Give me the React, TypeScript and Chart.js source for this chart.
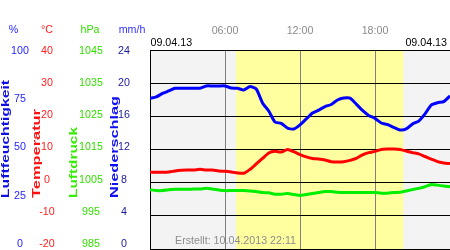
import React, { useEffect, useRef } from "react";
import { Chart, registerables } from "chart.js";

Chart.register(...registerables);

// ---- data ----
const times = [
  "00:00", "00:30", "01:00", "01:30", "02:00", "02:30", "03:00", "03:30",
  "04:00", "04:30", "05:00", "05:30", "06:00", "06:30", "07:00", "07:30",
  "08:00", "08:30", "09:00", "09:30", "10:00", "10:30", "11:00", "11:30",
  "12:00", "12:30", "13:00", "13:30", "14:00", "14:30", "15:00", "15:30",
  "16:00", "16:30", "17:00", "17:30", "18:00", "18:30", "19:00", "19:30",
  "20:00", "20:30", "21:00", "21:30", "22:00", "22:30", "23:00", "23:30",
  "24:00",
];

const humidity = [
  75.5, 76.2, 78.0, 79.3, 80.7, 80.7, 80.7, 80.7, 80.7, 81.9, 81.9, 81.9,
  81.9, 80.8, 80.7, 79.8, 81.6, 80.3, 73.1, 68.9, 63.2, 62.5, 60.1, 59.6,
  61.7, 64.8, 67.9, 69.4, 71.2, 72.3, 74.6, 75.6, 75.6, 72.5, 69.2, 66.6,
  65.1, 62.7, 61.9, 60.4, 59.1, 59.6, 62.2, 63.7, 67.4, 72.0, 73.2, 73.8,
  76.7,
];

const temperature = [
  2.3, 2.3, 2.3, 2.4, 2.7, 2.9, 3.0, 3.0, 3.2, 3.0, 3.0, 2.7,
  2.6, 2.4, 2.1, 2.0, 3.2, 4.9, 6.6, 8.3, 8.8, 8.6, 9.4, 8.7,
  7.8, 7.1, 6.6, 6.4, 6.1, 5.6, 5.5, 5.6, 6.0, 6.6, 7.7, 8.4,
  8.8, 9.4, 9.5, 9.5, 9.4, 8.9, 8.4, 8.0, 7.2, 6.4, 5.6, 5.2,
  5.0,
];

const pressure = [
  1001.9, 1001.6, 1001.6, 1001.9, 1002.0, 1002.0, 1002.0, 1002.1, 1002.1, 1002.3, 1002.1, 1001.8,
  1001.6, 1001.6, 1001.6, 1001.6, 1001.5, 1001.3, 1001.0, 1000.9, 1000.5, 1000.5, 1000.7, 1000.4,
  1000.1, 1000.4, 1000.7, 1001.0, 1001.3, 1001.3, 1001.1, 1001.0, 1001.0, 1001.0, 1001.0, 1001.0,
  1001.0, 1000.8, 1000.8, 1001.0, 1001.1, 1001.5, 1001.9, 1002.3, 1002.8, 1003.5, 1003.3, 1003.0,
  1002.8,
];

const precipitation: number[] = [];

const hourTicks = ["06:00", "12:00", "18:00"];
const humidityTicks = [0, 25, 50, 75, 100];
const temperatureTicks = [-20, -10, 0, 10, 20, 30, 40];
const pressureTicks = [985, 995, 1005, 1015, 1025, 1035, 1045];
const precipitationTicks = [0, 4, 8, 12, 16, 20, 24];
const axisTitles = ["Luftfeuchtigkeit", "Temperatur", "Luftdruck", "Niederschlag"];
const axisUnits = ["%", "°C", "hPa", "mm/h"];
const dateText = "09.04.13";
const createdText = "Erstellt: 10.04.2013 22:11";
const sunrise = "06:53";
const sunset = "20:16";

// ---- styling ----
const FONT = "'Liberation Sans', Arial, sans-serif";
const FS = 10.7;
const C_HUM = "#1f1fff";
const C_TEMP = "#ff2020";
const C_PRES = "#33dd00";
const C_RAIN = "#1a1a99";
const C_RAIN_HEAD = "#3535ff";

const toHours = (t: string) => {
  const [h, m] = t.split(":").map(Number);
  return h + m / 60;
};

// chart area is 199px tall; tick labels span from 1px below top to 5px above bottom
const labelRange = (ticks: number[]) => {
  const lo = ticks[0];
  const hi = ticks[ticks.length - 1];
  const perPx = (hi - lo) / 193;
  return { min: lo - 5 * perPx, max: hi + 1 * perPx };
};

const yAxis = (ticks: number[], color: string, weight: number, width: number, padding: number) => ({
  type: "linear",
  position: "left",
  weight,
  ...labelRange(ticks),
  grid: { display: false, drawTicks: false },
  border: { display: false },
  ticks: {
    color,
    font: { family: FONT, size: FS },
    padding,
    crossAlign: "center",
    autoSkip: false,
    callback: (v: number) => String(v),
  },
  afterBuildTicks: (s: any) => {
    s.ticks = ticks.map((v) => ({ value: v }));
  },
  afterFit: (s: any) => {
    s.width = width;
    s.paddingTop = 0;
    s.paddingBottom = 0;
  },
});

const backgroundPlugin = {
  id: "dayBackground",
  beforeDraw(chart: any) {
    const { ctx, chartArea: a, scales } = chart;
    const x = scales.x;
    ctx.save();
    ctx.fillStyle = "#f3f3f3";
    ctx.fillRect(a.left, a.top, a.right - a.left, a.bottom - a.top);
    const x0 = x.getPixelForValue(toHours(sunrise));
    const x1 = x.getPixelForValue(toHours(sunset));
    ctx.fillStyle = "#ffffa0";
    ctx.fillRect(x0, a.top, x1 - x0, a.bottom - a.top);
    ctx.restore();
  },
};

const textPlugin = {
  id: "texts",
  afterDraw(chart: any) {
    const { ctx, chartArea: a } = chart;
    ctx.save();
    // unit headers
    const unitX = [13.5, 47, 90, 132];
    const unitColors = [C_HUM, C_TEMP, C_PRES, C_RAIN_HEAD];
    ctx.font = `${FS}px ${FONT}`;
    ctx.textAlign = "center";
    ctx.textBaseline = "middle";
    axisUnits.forEach((u, i) => {
      ctx.fillStyle = unitColors[i];
      ctx.fillText(u, unitX[i], 30);
    });
    // dates
    ctx.fillStyle = "#000";
    ctx.textAlign = "left";
    ctx.fillText(dateText, a.left + 0.5, 43);
    ctx.textAlign = "right";
    ctx.fillText(dateText, a.right - 3, 43);
    // created
    ctx.fillStyle = "#8c8c8c";
    ctx.textAlign = "left";
    ctx.fillText(createdText, 175, 241.5);
    // rotated axis titles (stretched along their length)
    const titleX = [9, 39.5, 77, 117.5];
    const titleLen = [118, 89, 71, 102];
    const titleColors = ["#1010e0", "#ff1010", "#33ee00", "#1010f0"];
    ctx.font = `bold 11px ${FONT}`;
    ctx.textBaseline = "alphabetic";
    ctx.textAlign = "left";
    axisTitles.forEach((t, i) => {
      const w = ctx.measureText(t).width;
      ctx.save();
      ctx.translate(titleX[i], 198);
      ctx.rotate(-Math.PI / 2);
      ctx.scale(titleLen[i] / w, 1);
      ctx.fillStyle = titleColors[i];
      ctx.fillText(t, 0, 0);
      ctx.restore();
    });
    ctx.restore();
  },
};

export default function App() {
  const ref = useRef<HTMLCanvasElement | null>(null);

  useEffect(() => {
    if (!ref.current) return;
    const hours = times.map(toHours);
    const series = (vals: number[]) => vals.map((v, i) => ({ x: hours[i], y: v }));
    const line = (data: any, color: string, axis: string) => ({
      data,
      yAxisID: axis,
      borderColor: color,
      backgroundColor: color,
      borderWidth: 3,
      pointRadius: 0,
      tension: 0.2,
      borderJoinStyle: "round",
      fill: false,
    });

    const chart = new Chart(ref.current, {
      type: "line",
      data: {
        datasets: [
          line(series(precipitation), "#0000ff", "yR"),
          line(series(pressure), "#00ee00", "yP"),
          line(series(temperature), "#ff0000", "yT"),
          line(series(humidity), "#0000ff", "yH"),
        ] as any,
      },
      options: {
        responsive: false,
        animation: false,
        events: [],
        layout: { padding: { left: 0, right: 0, top: 0, bottom: 1 } },
        plugins: { legend: { display: false }, tooltip: { enabled: false } },
        scales: {
          x: {
            type: "linear",
            position: "top",
            min: 0,
            max: 24,
            grid: { color: "#808080", lineWidth: 1, drawTicks: false },
            border: { display: true, color: "#000", width: 1 },
            ticks: {
              color: "#8c8c8c",
              font: { family: FONT, size: FS },
              padding: 13,
              maxRotation: 0,
              autoSkip: false,
              callback: (_v: any, i: number) => hourTicks[i],
            },
            afterBuildTicks: (s: any) => {
              s.ticks = hourTicks.map((t) => ({ value: toHours(t) }));
            },
            afterFit: (s: any) => {
              s.height = 50;
              s.paddingLeft = 0;
              s.paddingRight = 0;
            },
          },
          yH: yAxis(humidityTicks, C_HUM, 4, 35, 6.1),
          yT: yAxis(temperatureTicks, C_TEMP, 3, 25, 5.25),
          yP: yAxis(pressureTicks, C_PRES, 2, 45, 2.1),
          yR: yAxis(precipitationTicks, C_RAIN, 1, 45, 20),
          yG: {
            type: "linear",
            position: "left",
            weight: 0,
            min: 0,
            max: 6,
            ticks: { display: false, stepSize: 1 },
            grid: { color: "#000", lineWidth: 1, drawTicks: false },
            border: { display: true, color: "#000", width: 1 },
            afterFit: (s: any) => {
              s.width = 0;
              s.paddingTop = 0;
              s.paddingBottom = 0;
            },
          },
        } as any,
      },
      plugins: [backgroundPlugin, textPlugin],
    });
    return () => chart.destroy();
  }, []);

  return (
    <div style={{ position: "fixed", left: 0, top: 0, width: 450, height: 250, background: "#fff" }}>
      <canvas ref={ref} width={450} height={250} style={{ display: "block" }} />
    </div>
  );
}
